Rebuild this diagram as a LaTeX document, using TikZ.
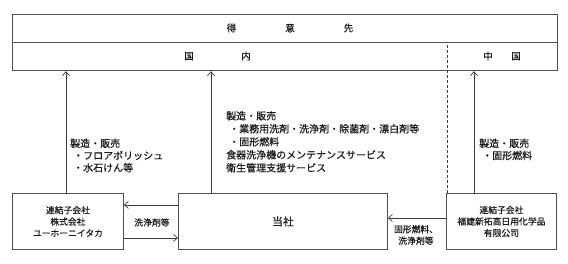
\documentclass[tikz,border=0pt]{standalone}
\usepackage{fontspec}
\setmainfont{Noto Sans CJK JP}[RawFeature={embolden=0.5}]
\usetikzlibrary{arrows.meta}
\definecolor{frame}{HTML}{505050}
\definecolor{ink}{HTML}{1A1A1A}
\tikzset{
  boxc/.style={draw=frame, line width=0.9pt, rectangle, inner sep=0pt, anchor=north west, text=ink},
  topbox/.style={draw=frame, line width=1.2pt, rectangle, inner sep=0pt, anchor=north west, minimum width=545pt, minimum height=28pt, text=ink},
  arr/.style={draw=ink!85, line width=0.7pt, -{Straight Barb[length=4pt,width=7pt]}},
  lbl/.style={inner sep=0pt, align=left, anchor=north west, text=ink, font=\fontsize{10}{13}\selectfont},
  small/.style={inner sep=0pt, align=center, text=ink, font=\fontsize{8.8}{11.5}\selectfont},
  ttl/.style={inner sep=0pt, text=ink, font=\fontsize{9.5}{11}\selectfont}
}
\begin{document}
\begin{tikzpicture}[x=1pt,y=-1pt]
\useasboundingbox (0,0) rectangle (568,263);
% top boxes
\node[topbox] (cust) at (12,14) {};
\node[topbox] (reg) at (12,42) {};
\node[ttl] (custtxt) at (290,28) {得\hspace{49pt}意\hspace{49pt}先};
\node[ttl] (domtxt) at (217.5,56) {国\hspace{47.5pt}内};
\node[ttl] (chntxt) at (502,56) {中\hspace{18.5pt}国};
% bottom boxes
\node[boxc, minimum width=111pt, minimum height=56pt, font=\fontsize{8.8}{11.5}\selectfont, align=center] (lbox) at (12,193) {連結子会社\\株式会社\\ユーホーニイタカ};
\node[boxc, minimum width=209pt, minimum height=56pt, font=\fontsize{10.8}{12}\selectfont] (self) at (178,193) {当社};
\node[boxc, minimum width=110pt, minimum height=56pt, font=\fontsize{8.8}{11.5}\selectfont, align=center] (rbox) at (446,193) {連結子会社\\福建新拓高日用化学品\\有限公司};
% dashed divider
\draw[draw=ink!85, line width=0.7pt, dash pattern=on 3pt off 2pt] ([xshift=1pt]rbox.north west) -- ([xshift=1pt]rbox.north west |- reg.north);
% vertical arrows
\draw[arr] ([xshift=54pt]lbox.north west) -- ([xshift=54pt]lbox.north west |- reg.south);
\draw[arr] ([xshift=33pt]self.north west) -- ([xshift=33pt]self.north west |- reg.south);
\draw[arr] ([xshift=28pt]rbox.north west) -- ([xshift=28pt]rbox.north west |- reg.south);
% horizontal arrows
\draw[arr] ([yshift=-12pt]self.north west) -- ([yshift=-12pt]lbox.north east);
\draw[arr] ([yshift=12pt]lbox.south east) -- ([yshift=12pt]self.south west);
\draw[arr] ([yshift=-25pt]rbox.north west) -- ([yshift=-25pt]self.north east);
\node[small] (l1) at (152,222.5) {洗浄剤等};
\node[small] (l2) at (416,235) {固形燃料、\\洗浄剤等};
% side labels
\node[lbl, font=\fontsize{10}{12.2}\selectfont] (txtL) at (70,138.5) {製造・販売\\\hspace{3pt}・フロアポリッシュ\\\hspace{3pt}・水石けん等};
\node[lbl] (txtM) at (226,111) {製造・販売\\\hspace{3pt}・業務用洗剤・洗浄剤・除菌剤・漂白剤等\\\hspace{3pt}・固形燃料\\食器洗浄機のメンテナンスサービス\\衛生管理支援サービス};
\node[lbl, font=\fontsize{10}{12.2}\selectfont] (txtR) at (479,138.5) {製造・販売\\\hspace{3pt}・固形燃料};
\end{tikzpicture}
\end{document}
